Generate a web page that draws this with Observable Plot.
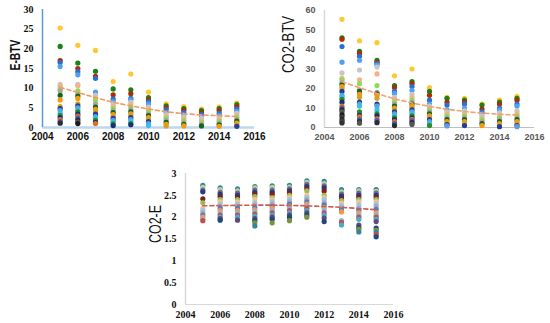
<!DOCTYPE html>
<html><head><meta charset="utf-8">
<script src="https://cdn.jsdelivr.net/npm/d3@7"></script>
<script src="https://cdn.jsdelivr.net/npm/@observablehq/plot@0.6"></script>
<style>
body{margin:0;background:#fff;}
#wrap{position:relative;width:550px;height:323px;overflow:hidden;background:#fff;}
#wrap > div, #wrap > svg{position:absolute;}
</style></head>
<body><div id="wrap"></div>
<script>
const years = [2005,2006,2007,2008,2009,2010,2011,2012,2013,2014,2015];
const xTicks = [2004,2006,2008,2010,2012,2014,2016];

// E-BTV values per year (top to bottom)
const eBTV = [
  [25.3,20.6,17.0,16.5,15.5,11.0,10.5,9.8,9.3,8.2,7.0,5.3,4.8,4.3,3.6,3.0,2.5,2.0,1.5,1.1],
  [20.9,16.4,15.0,14.2,13.4,11.0,10.6,9.3,8.5,8.0,7.4,6.0,5.5,5.0,4.5,4.0,3.4,2.9,2.4,1.9,1.4,1.0],
  [19.6,14.3,13.0,12.5,9.0,8.2,7.5,7.0,6.0,5.2,4.6,4.0,3.4,2.8,2.3,1.8,1.3,1.0],
  [11.7,9.8,8.3,7.2,6.6,6.0,5.4,4.8,4.3,3.8,3.3,2.8,2.3,1.8,1.3,0.9,0.5],
  [13.6,9.6,8.6,7.4,7.0,6.4,5.8,5.3,4.6,4.0,3.5,3.0,2.5,2.0,1.5,1.0,0.7],
  [9.0,7.6,7.0,6.5,6.0,5.2,4.6,4.0,3.5,3.0,2.5,2.0,1.5,1.0,0.5],
  [6.0,5.5,5.0,4.5,3.8,3.3,2.8,2.3,1.8,1.3,0.8,0.4],
  [5.3,4.8,4.4,3.8,3.2,2.7,2.2,1.7,1.2,0.8,0.4],
  [4.7,4.3,3.8,3.3,2.8,2.3,1.7,1.2,0.8,0.4],
  [5.2,4.8,4.3,3.6,3.1,2.6,2.1,1.6,1.1,0.7,0.3],
  [6.2,5.8,5.3,4.7,4.1,3.6,3.1,2.6,2.1,1.6,1.1,0.7,0.3]
];
const trendEBTV = [10.2,8.9,7.6,6.4,5.5,4.7,4.0,3.5,3.2,3.0,2.8];

// CO2-BTV values per year
const co2BTV = [
  [55.5,46.0,45.3,41.5,33.5,28.0,25.2,24.5,23.0,22.0,21.0,20.0,18.5,16.5,15.5,14.5,13.0,11.0,10.0,9.0,8.0,6.5,5.5,4.0,3.0,2.3],
  [44.5,39.0,38.0,36.5,34.5,29.5,24.5,22.5,19.2,18.5,17.0,15.5,13.0,12.0,11.0,8.0,6.2,5.5,4.0,3.0,2.2],
  [43.5,34.5,33.5,32.8,32.0,31.0,27.5,21.5,18.0,17.3,16.5,15.0,12.0,11.0,9.0,7.0,6.0,4.5,3.5,2.5],
  [26.5,21.5,20.5,18.5,17.5,15.5,14.0,13.0,12.0,11.0,10.0,9.0,8.0,7.0,6.0,5.0,4.0,3.0,2.0,1.0],
  [30.0,23.5,22.5,21.0,19.0,17.0,15.5,14.0,13.0,12.0,11.0,10.0,9.0,8.0,7.0,6.0,5.0,4.2,3.4,2.5,1.6],
  [20.5,18.5,16.5,14.0,12.0,11.0,10.0,9.0,8.0,7.0,6.0,5.0,4.0,3.0,2.0,1.0],
  [15.5,15.0,13.0,11.5,9.0,8.0,7.0,6.0,5.0,4.0,3.0,2.0,1.5,0.8],
  [15.0,14.0,13.0,12.0,10.0,8.5,7.0,6.0,5.0,4.0,3.0,2.0,1.0],
  [12.0,11.5,9.5,8.0,7.0,6.0,5.0,4.0,3.0,2.0,1.0],
  [14.0,13.0,12.0,10.0,9.0,7.5,6.0,5.0,4.0,3.0,2.0,1.0,0.4],
  [16.0,15.0,14.0,12.0,11.0,8.5,7.0,6.0,5.0,4.0,3.0,2.0,1.0,0.4]
];
const trendCO2BTV = [23.5,20.4,17.4,14.7,12.6,10.8,9.4,8.2,7.4,6.8,6.4];

// CO2-E values per year
const co2E = [
  [2.73,2.68,2.62,2.58,2.42,2.33,2.20,2.15,2.10,2.05,2.00,1.95,1.92],
  [2.67,2.63,2.57,2.52,2.47,2.40,2.35,2.30,2.25,2.20,2.15,2.10,2.05,2.00,1.97,1.93],
  [2.65,2.60,2.55,2.50,2.45,2.40,2.35,2.30,2.25,2.20,2.15,2.10,2.05,2.00,1.93],
  [2.70,2.67,2.62,2.57,2.52,2.47,2.40,2.33,2.28,2.22,2.17,2.12,2.07,2.02,1.97,1.92,1.87,1.80],
  [2.72,2.68,2.62,2.57,2.52,2.45,2.40,2.35,2.30,2.25,2.20,2.15,2.10,2.05,2.00,1.95,1.87],
  [2.73,2.69,2.65,2.60,2.55,2.50,2.45,2.40,2.35,2.30,2.25,2.20,2.15,2.10,2.05,2.00,1.92],
  [2.83,2.80,2.75,2.70,2.65,2.60,2.50,2.45,2.40,2.35,2.30,2.25,2.20,2.15,2.10,2.05,2.00],
  [2.82,2.77,2.72,2.67,2.60,2.50,2.45,2.40,2.33,2.28,2.22,2.17,2.10,2.05,1.98,1.90],
  [2.63,2.58,2.53,2.48,2.42,2.38,2.32,2.27,2.22,2.17,2.12,1.92,1.88,1.82],
  [2.63,2.60,2.55,2.50,2.45,2.40,2.35,2.28,2.20,2.15,2.10,2.05,2.00,1.95,1.82,1.76,1.72,1.66],
  [2.63,2.59,2.55,2.50,2.45,2.40,2.35,2.30,2.25,2.18,2.10,2.05,2.00,1.95,1.90,1.75,1.70,1.65,1.60,1.55]
];
const trendCO2E = [2.26,2.265,2.27,2.275,2.275,2.27,2.26,2.245,2.225,2.2,2.17];

const brightPalette = ["#FFC830","#1B7F1B","#A83000","#2F6ECF","#4FA0EE","#C6C6C6","#F5B28A","#8CDC5A","#A6A6A6","#17631A","#F59A10","#D8A020","#1F3F9A","#5AA0E0","#36C0E8","#2A8A2A","#1A2F7A","#E07020","#3E5FBF","#2D2D2D","#555555","#1a1a1a","#3a3a3a","#2a2a2a","#444","#333"];
const pastelPalette = ["#31859C","#B3D88C","#7E5FA0","#1F3F7D","#7F1F1F","#9BBB59","#FAC090","#93CDDD","#B3A2C7","#4F81BD","#F79646","#8DB4E2","#C0504D","#4BACC6","#604A7B","#1F497D","#77933C","#31859C","#C0504D","#1F497D"];

function chart(o) {
  const pts = years.flatMap((yr, i) => o.values[i].map((v, k) => ({year: yr, v, k})));
  const trend = years.map((yr, i) => ({year: yr, v: o.trend[i]}));
  const svg = Plot.plot({
    width: o.width, height: o.height,
    marginLeft: o.ml, marginRight: o.mr, marginTop: o.mt, marginBottom: o.mb,
    style: {fontFamily: o.tickFont, fontSize: o.tickSize + "px", fontWeight: "bold", color: o.tickColor, background: "transparent", overflow: "visible"},
    x: {domain: [2004, 2016]},
    y: {domain: o.yDomain},
    marks: [
      Plot.ruleY([o.yDomain[0]], {x1: 2004, x2: 2016, stroke: o.xAxisColor, strokeWidth: o.xAxisWidth}),
      Plot.ruleX([2004], {y1: o.yDomain[0], y2: o.yDomain[1], stroke: o.yAxisColor, strokeWidth: 1.5}),
      Plot.dot(pts, {x: "year", y: "v", r: 2.6, fill: d => o.palette[d.k % o.palette.length], stroke: "none"}),
      Plot.line(trend, {x: "year", y: "v", stroke: o.trendColor, strokeWidth: 1.6, strokeDasharray: "4,3"}),
      Plot.axisX({ticks: xTicks, tickFormat: d => String(d), tickSize: 0, tickPadding: o.xPad, label: null, fontFamily: o.xFont || o.tickFont}),
      Plot.axisY({ticks: o.yTicks, tickFormat: d => String(d), tickSize: 0, tickPadding: o.yPad, label: null, fontFamily: o.tickFont}),
      Plot.text([o.label], {frameAnchor: "left", dx: o.labelDx, dy: o.labelDy || 0, rotate: -90, fontSize: o.labelSize, fontWeight: o.labelWeight, fontFamily: "Liberation Sans, Arial, sans-serif", fill: "#111"})
    ]
  });
  const lab = d3.select(svg).selectAll("g[aria-label='text'] text");
  lab.attr("textLength", o.labelLen).attr("lengthAdjust", "spacingAndGlyphs");
  svg.style.left = o.left + "px";
  svg.style.top = o.top + "px";
  return svg;
}

const wrap = document.getElementById("wrap");
wrap.appendChild(chart({
  values: eBTV, trend: trendEBTV, palette: brightPalette,
  yDomain: [0, 30], yTicks: [0,5,10,15,20,25,30],
  left: 0, top: 0, width: 275, height: 160, ml: 42, mr: 21, mt: 9, mb: 33,
  tickFont: "Liberation Serif, Times New Roman, serif", xFont: "Liberation Sans, Arial, sans-serif",
  tickSize: 10, tickColor: "#111", xPad: 5, yPad: 9,
  xAxisColor: "#BDD7EE", xAxisWidth: 2.5, yAxisColor: "#5B9BD5", trendColor: "#F79A5A",
  label: "E-BTV", labelSize: 14, labelWeight: "bold", labelDx: -27, labelDy: 2, labelLen: 31
}));
wrap.appendChild(chart({
  values: co2BTV, trend: trendCO2BTV, palette: brightPalette,
  yDomain: [0, 60], yTicks: [0,10,20,30,40,50,60],
  left: 275, top: 0, width: 275, height: 160, ml: 49, mr: 16, mt: 10, mb: 33,
  tickFont: "Liberation Sans, Arial, sans-serif",
  tickSize: 9, tickColor: "#595959", xPad: 6, yPad: 9,
  xAxisColor: "#BFBFBF", xAxisWidth: 1.2, yAxisColor: "#D9D9D9", trendColor: "#F4A070",
  label: "CO2-BTV", labelSize: 16, labelWeight: "normal", labelDx: -36, labelDy: 4, labelLen: 57
}));
wrap.appendChild(chart({
  values: co2E, trend: trendCO2E, palette: pastelPalette,
  yDomain: [0, 3], yTicks: [0,0.5,1,1.5,2,2.5,3],
  left: 130, top: 160, width: 290, height: 163, ml: 55, mr: 27, mt: 13, mb: 19,
  tickFont: "Liberation Serif, Times New Roman, serif",
  tickSize: 10, tickColor: "#111", xPad: 6, yPad: 9,
  xAxisColor: "#D9D9D9", xAxisWidth: 1.2, yAxisColor: "#D9D9D9", trendColor: "#D05A50",
  label: "CO2-E", labelSize: 16, labelWeight: "normal", labelDx: -30, labelDy: 4, labelLen: 38
}));
</script></body></html>
